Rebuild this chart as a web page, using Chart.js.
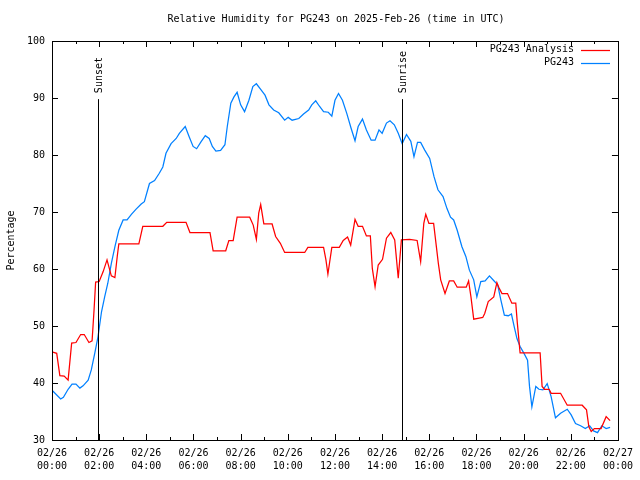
<!DOCTYPE html>
<html>
<head>
<meta charset="utf-8">
<script src="https://cdn.jsdelivr.net/npm/chart.js@4/dist/chart.umd.min.js"></script>
<style>
html,body{margin:0;padding:0;background:#fff;}
#wrap{width:640px;height:480px;}
</style>
</head>
<body>
<div id="wrap"><canvas id="c" width="640" height="480"></canvas></div>
<script>
const titleText = 'Relative Humidity for PG243 on 2025-Feb-26 (time in UTC)';
const yTitle = 'Percentage';
const seriesNames = ['PG243 Analysis', 'PG243'];
const yTicks = [30, 40, 50, 60, 70, 80, 90, 100];
const xTickHours = [0, 2, 4, 6, 8, 10, 12, 14, 16, 18, 20, 22, 24];
const xTickDates = ['02/26','02/26','02/26','02/26','02/26','02/26','02/26','02/26','02/26','02/26','02/26','02/26','02/27'];
const xTickTimes = ['00:00','02:00','04:00','06:00','08:00','10:00','12:00','14:00','16:00','18:00','20:00','22:00','00:00'];
const sunEvents = ['Sunset', 'Sunrise'];
const sunTimes = ['01:56', '14:51'];

const analysisTimes = ['00:02','00:12','00:20','00:31','00:41','00:50','01:01','01:13','01:22','01:34','01:42','01:47','01:51','02:00','02:10','02:20','02:27','02:31','02:40','02:46','02:50','03:41','03:51','04:42','04:52','05:41','05:51','06:42','06:50','07:22','07:30','07:41','07:51','08:23','08:32','08:40','08:46','08:51','08:59','09:20','09:29','09:41','09:52','10:43','10:51','11:31','11:37','11:42','11:52','12:11','12:21','12:32','12:40','12:51','12:59','13:10','13:20','13:30','13:35','13:42','13:50','14:01','14:11','14:22','14:32','14:41','14:49','15:10','15:29','15:38','15:46','15:51','15:59','16:11','16:17','16:23','16:29','16:40','16:51','17:02','17:11','17:34','17:40','17:46','17:53','18:07','18:16','18:21','18:30','18:44','18:52','18:58','19:05','19:19','19:30','19:40','19:44','19:51','20:42','20:47','20:53','21:05','21:10','21:34','21:51','22:29','22:40','22:46','22:52','23:00','23:17','23:30','23:40'];
const analysisValues = [45.4,45.2,41.3,41.2,40.5,47.0,47.1,48.5,48.5,47.1,47.4,52.8,57.7,57.8,59.5,61.6,59.8,58.8,58.5,62.2,64.4,64.4,67.5,67.5,68.2,68.2,66.4,66.4,63.2,63.2,65.0,65.0,69.1,69.1,67.7,65.2,69.8,71.3,67.9,67.9,65.7,64.5,62.9,62.9,63.8,63.8,61.6,59.1,63.8,63.8,65.0,65.6,64.2,68.7,67.5,67.5,65.8,65.8,60.1,56.9,60.7,61.7,65.4,66.4,65.1,58.4,65.1,65.2,65.0,61.3,68.0,69.6,68.0,68.0,64.5,61.0,58.1,55.7,57.9,57.9,56.8,56.8,57.9,55.1,51.2,51.4,51.5,52.2,54.3,55.1,57.6,56.6,55.7,55.7,54.0,54.0,50.5,45.3,45.3,39.4,38.9,38.9,38.2,38.2,36.1,36.1,35.3,32.3,31.5,32.0,32.0,34.1,33.4];

const stationTimes = ['00:02','00:22','00:29','00:41','00:51','01:01','01:11','01:19','01:32','01:40','01:49','01:57','02:06','02:14','02:22','02:31','02:40','02:50','03:01','03:11','03:22','03:34','03:47','03:55','04:08','04:21','04:33','04:42','04:50','05:03','05:16','05:24','05:39','05:49','05:59','06:08','06:19','06:30','06:40','06:48','06:57','07:09','07:20','07:26','07:35','07:43','07:51','08:00','08:10','08:21','08:31','08:40','08:51','09:02','09:12','09:24','09:37','09:52','10:01','10:11','10:28','10:40','10:53','11:01','11:11','11:20','11:31','11:43','11:52','12:00','12:09','12:19','12:30','12:41','12:51','12:59','13:10','13:20','13:32','13:42','13:52','14:00','14:11','14:20','14:31','14:41','14:51','15:02','15:13','15:21','15:30','15:38','15:48','16:01','16:12','16:22','16:35','16:45','16:54','17:02','17:11','17:23','17:33','17:42','17:53','18:01','18:11','18:22','18:33','18:45','18:54','19:02','19:11','19:21','19:29','19:36','19:43','19:51','20:01','20:10','20:15','20:21','20:31','20:39','20:49','21:00','21:10','21:21','21:34','21:51','22:01','22:12','22:25','22:37','22:48','22:58','23:08','23:19','23:30','23:40'];
const stationValues = [38.6,37.2,37.5,38.9,39.8,39.8,39.1,39.5,40.5,42.3,45.3,48.1,52.5,55.1,57.5,61.0,63.9,66.8,68.6,68.6,69.6,70.5,71.4,71.8,75.0,75.5,76.8,77.9,80.3,82.0,82.9,83.8,85.0,83.2,81.5,81.1,82.3,83.4,82.9,81.5,80.7,80.8,81.8,85.0,89.1,90.2,91.0,88.8,87.6,89.6,92.0,92.5,91.5,90.5,88.8,87.9,87.4,86.1,86.6,86.1,86.4,87.2,87.9,88.8,89.5,88.6,87.6,87.5,86.8,89.6,90.8,89.6,87.3,84.7,82.5,85.0,86.3,84.4,82.6,82.6,84.4,83.8,85.6,86.0,85.3,83.8,82.0,83.6,82.4,79.7,82.2,82.2,80.9,79.4,76.2,73.9,72.7,70.6,69.1,68.6,66.8,63.9,62.2,59.8,58.1,55.1,57.8,57.9,58.8,57.9,57.2,54.6,51.9,51.8,52.1,49.9,47.8,46.4,45.2,44.0,39.4,35.8,39.4,38.9,38.8,39.9,37.6,33.9,34.7,35.4,34.4,32.9,32.5,32.0,32.5,31.6,31.3,32.5,32.0,32.2];

function toHours(s){ const p = s.split(':'); return (+p[0]) + (+p[1]) / 60; }
function pts(times, vals){ return times.map((t, i) => ({x: toHours(t), y: vals[i]})); }

const FONT = 'DejaVu Sans Mono';
const RED = '#ff0000';
const BLUE = '#0080ff';

const decorPlugin = {
  id: 'decor',
  afterDatasetsDraw(chart){
    const ctx = chart.ctx;
    const a = chart.chartArea;
    const xs = chart.scales.x, ys = chart.scales.y;
    ctx.save();
    ctx.strokeStyle = '#000';
    ctx.lineWidth = 1;
    ctx.strokeRect(Math.round(a.left) + 0.5, Math.round(a.top) + 0.5, Math.round(a.right - a.left), Math.round(a.bottom - a.top));
    ctx.beginPath();
    for (let h = 0; h <= 24; h++) {
      const px = Math.round(xs.getPixelForValue(h)) + 0.5;
      const len = (h % 2 === 0) ? 6 : 3;
      ctx.moveTo(px, a.bottom); ctx.lineTo(px, a.bottom - len);
      ctx.moveTo(px, a.top); ctx.lineTo(px, a.top + len);
    }
    yTicks.forEach(v => {
      const py = Math.round(ys.getPixelForValue(v)) + 0.5;
      ctx.moveTo(a.left, py); ctx.lineTo(a.left + 6, py);
      ctx.moveTo(a.right, py); ctx.lineTo(a.right - 6, py);
    });
    ctx.stroke();
    ctx.font = '10px "' + FONT + '"';
    ctx.fillStyle = '#000';
    sunEvents.forEach((name, i) => {
      const px = Math.round(xs.getPixelForValue(toHours(sunTimes[i]))) + 0.5;
      const topPx = ys.getPixelForValue(89.8);
      ctx.beginPath();
      ctx.moveTo(px, topPx); ctx.lineTo(px, a.bottom);
      ctx.stroke();
      ctx.save();
      ctx.translate(px + 1, topPx - 6);
      ctx.rotate(-Math.PI / 2);
      ctx.textAlign = 'left';
      ctx.textBaseline = 'middle';
      ctx.fillText(name, 0, 0);
      ctx.restore();
    });
    const legendColors = [RED, BLUE];
    const rows = [49.5, 62.5];
    ctx.textAlign = 'right';
    ctx.textBaseline = 'middle';
    seriesNames.forEach((n, i) => {
      ctx.fillStyle = '#000';
      ctx.fillText(n, 574, rows[i]);
      ctx.strokeStyle = legendColors[i];
      ctx.lineWidth = 1.25;
      ctx.beginPath();
      ctx.moveTo(581, Math.round(rows[i]) + 0.5);
      ctx.lineTo(610, Math.round(rows[i]) + 0.5);
      ctx.stroke();
    });
    ctx.fillStyle = '#000';
    ctx.textAlign = 'center';
    ctx.textBaseline = 'middle';
    ctx.fillText(titleText, 336, 19);
    ctx.save();
    ctx.translate(11, (a.top + a.bottom) / 2);
    ctx.rotate(-Math.PI / 2);
    ctx.fillText(yTitle, 0, 0);
    ctx.restore();
    ctx.restore();
  }
};

new Chart(document.getElementById('c'), {
  type: 'line',
  data: {
    datasets: [
      { label: seriesNames[0], data: pts(analysisTimes, analysisValues), borderColor: RED, backgroundColor: RED, borderWidth: 1.25, pointRadius: 0, tension: 0, fill: false },
      { label: seriesNames[1], data: pts(stationTimes, stationValues), borderColor: BLUE, backgroundColor: BLUE, borderWidth: 1.25, pointRadius: 0, tension: 0, fill: false }
    ]
  },
  options: {
    responsive: false,
    animation: false,
    devicePixelRatio: 1,
    layout: { padding: { top: 41, right: 19, left: 0, bottom: 0 } },
    plugins: { legend: { display: false }, title: { display: false }, tooltip: { enabled: false } },
    scales: {
      x: {
        type: 'linear', min: 0, max: 24,
        afterBuildTicks(scale){ scale.ticks = xTickHours.map(v => ({value: v})); },
        afterFit(scale){ scale.height = 40; },
        grid: { display: false, drawTicks: false },
        border: { display: false },
        ticks: {
          autoSkip: false, maxRotation: 0, padding: 7, color: '#000',
          font: { family: FONT, size: 10, lineHeight: 1.3 },
          callback(v){ const i = xTickHours.indexOf(v); return i >= 0 ? [xTickDates[i], xTickTimes[i]] : ''; }
        }
      },
      y: {
        min: 30, max: 100,
        afterBuildTicks(scale){ scale.ticks = yTicks.map(v => ({value: v})); },
        afterFit(scale){ scale.width = 52; },
        grid: { display: false, drawTicks: false },
        border: { display: false },
        ticks: { padding: 7, color: '#000', font: { family: FONT, size: 10 } }
      }
    }
  },
  plugins: [decorPlugin]
});
</script>
</body>
</html>
